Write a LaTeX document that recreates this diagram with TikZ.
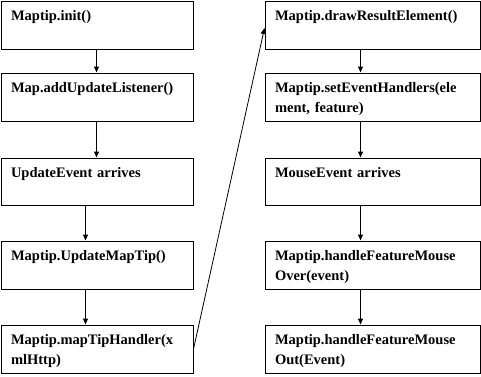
\documentclass[tikz,border=0pt]{standalone}
\usepackage{fontspec}
\setmainfont{Liberation Serif}
\usetikzlibrary{arrows.meta,calc}
\begin{document}
\begin{tikzpicture}[x=1pt,y=-1pt,
  box/.style={draw, line width=1pt, rectangle, anchor=north west, inner xsep=10pt, inner ysep=0pt,
    text height=19.5pt, text depth=28.5pt, align=left, font=\fontsize{14.5}{20}\selectfont\bfseries},
  lbox/.style={box, text width=172pt},
  rbox/.style={box, text width=195pt},
  arr/.style={-{Triangle[width=5pt,length=6pt]}, line width=1pt}]
\useasboundingbox (0,0) rectangle (481,376);
% left column
\node[lbox] (L1) at (0.5,0.5) {Maptip.init()};
\node[lbox] (L2) at (0.5,72.5) {Map.addUpdateListener()};
\node[lbox, text depth=27.5pt] (L3) at (0.5,157.5) {UpdateEvent arrives};
\node[lbox] (L4) at (0.5,240.5) {Maptip.UpdateMapTip()};
\node[lbox] (L5) at (0.5,324.5) {Maptip.mapTipHandler(x\\mlHttp)};
% right column
\node[rbox] (R1) at (264.5,0.5) {Maptip.drawResultElement()};
\node[rbox, text depth=29pt] (R2) at (264.5,72.5) {Maptip.setEventHandlers(ele\\ment, feature)};
\node[rbox, text depth=27.5pt] (R3) at (264.5,157.5) {MouseEvent arrives};
\node[rbox] (R4) at (264.5,240.5) {Maptip.handleFeatureMouse\\Over(event)};
\node[rbox] (R5) at (264.5,324.5) {Maptip.handleFeatureMouse\\Out(Event)};
% arrow columns
\coordinate (cA) at (96.5,0);
\coordinate (cB) at (85.5,0);
\coordinate (cC) at (360.5,0);
\draw[arr] (cA |- L1.south) -- (cA |- L2.north);
\draw[arr] (cA |- L2.south) -- (cA |- L3.north);
\draw[arr] (cB |- L3.south) -- (cB |- L4.north);
\draw[arr] (cB |- L4.south) -- (cB |- L5.north);
\draw[arr] (cC |- R1.south) -- (cC |- R2.north);
\draw[arr] (cC |- R2.south) -- (cC |- R3.north);
\draw[arr] (cC |- R3.south) -- (cC |- R4.north);
\draw[arr] (cC |- R4.south) -- (cC |- R5.north);
\draw[-{Triangle[width=5pt,length=6pt]}, line width=0.8pt] (L5.east) -- ([yshift=-3pt]R1.west);
\end{tikzpicture}
\end{document}
